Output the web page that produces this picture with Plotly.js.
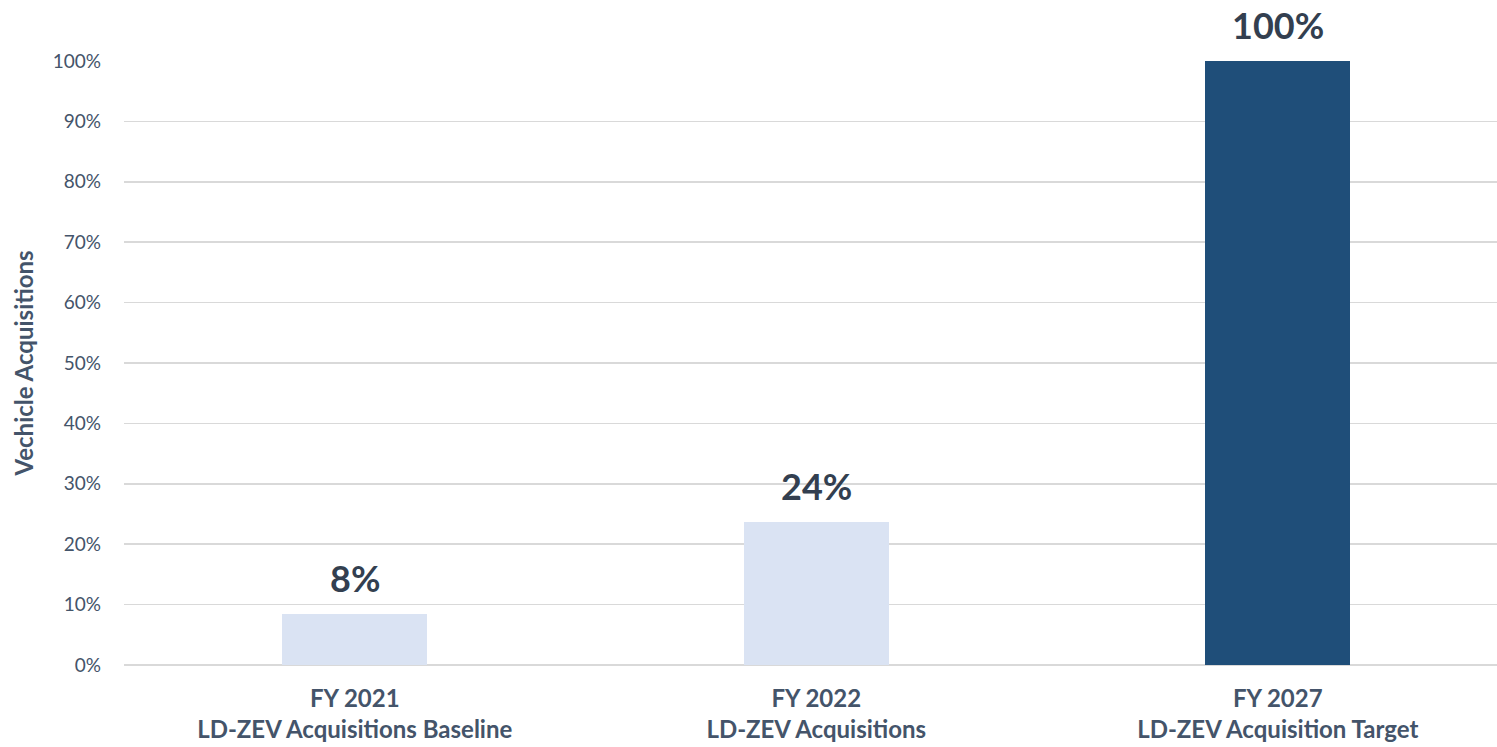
<!DOCTYPE html>
<html>
<head>
<meta charset="utf-8">
<script src="https://cdn.plot.ly/plotly-3.0.1.min.js"></script>
<style>html,body{margin:0;padding:0;background:#fff;}#chart{width:1497px;height:747px;}</style>
</head>
<body>
<div id="chart"></div>
<script>
const categories = ["FY 2021<br>LD-ZEV Acquisitions Baseline", "FY 2022<br>LD-ZEV Acquisitions", "FY 2027<br>LD-ZEV Acquisition Target"];
const values = [0.084, 0.237, 1.0];
const barColors = ["#DAE3F3", "#DAE3F3", "#1F4E79"];
const yTickVals = [0, 0.1, 0.2, 0.3, 0.4, 0.5, 0.6, 0.7, 0.8, 0.9, 1.0];
const yTickText = ["0%", "10%", "20%", "30%", "40%", "50%", "60%", "70%", "80%", "90%", "100%"];

const FONT = "Lato, 'Open Sans', sans-serif";
const trace = {
  type: "bar",
  x: categories,
  y: values,
  marker: {color: barColors},
  width: 0.314,
  hoverinfo: "none",
  cliponaxis: false
};
const annotations = values.map((v, i) => ({
  x: categories[i], y: v, xref: "x", yref: "y",
  text: "<b>" + Math.round(v * 100) + "%</b>",
  showarrow: false, yanchor: "bottom", yshift: 12,
  font: {family: FONT, size: 36, color: "#333F50"}
}));
const layout = {
  width: 1497, height: 747,
  margin: {l: 124, r: 0, t: 61, b: 82},
  paper_bgcolor: "#ffffff", plot_bgcolor: "#ffffff",
  showlegend: false,
  bargap: 0,
  font: {family: FONT, color: "#44546A"},
  xaxis: {
    type: "category",
    range: [-0.5, 2.475],
    showgrid: false, zeroline: false, showline: false,
    ticks: "", tickfont: {family: FONT, size: 24, color: "#44546A", weight: "bold"},
    ticklabelstandoff: 17
  },
  yaxis: {
    range: [0, 1.0],
    tickvals: yTickVals, ticktext: yTickText,
    showgrid: true, gridcolor: "#D9D9D9", gridwidth: 1.5,
    zeroline: true, zerolinecolor: "#D9D9D9", zerolinewidth: 1.5,
    showline: false, ticks: "",
    tickfont: {family: FONT, size: 19, color: "#44546A"},
    ticklabelstandoff: 22,
    title: {text: "<b>Vechicle Acquisitions</b>", font: {family: FONT, size: 24, color: "#44546A"}, standoff: 12}
  },
  annotations: annotations
};
Plotly.newPlot("chart", [trace], layout, {displayModeBar: false, staticPlot: true});
</script>
</body>
</html>
